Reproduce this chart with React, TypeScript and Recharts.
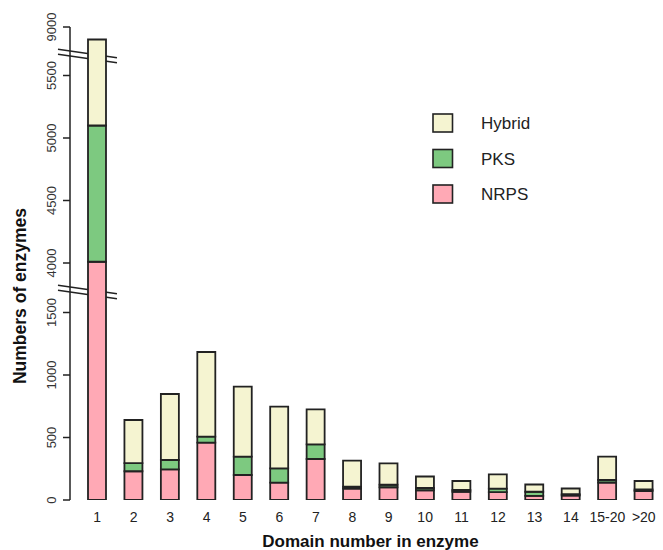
import React from 'react';
import { BarChart, Bar, XAxis, YAxis, Customized } from 'recharts';

// ---- data ----
const categories = ['1', '2', '3', '4', '5', '6', '7', '8', '9', '10', '11', '12', '13', '14', '15-20', '>20'];
const nrps = [4010, 230, 245, 459, 200, 139, 328, 92, 102, 78, 66, 63, 33, 36, 140, 72];
const pks = [1090, 65, 75, 48, 147, 114, 117, 15, 20, 18, 14, 28, 33, 10, 20, 12];
const hybrid = [3800, 345, 528, 677, 560, 494, 280, 208, 171, 92, 72, 114, 58, 46, 187, 68];
const yTickValues = [0, 500, 1000, 1500, 4000, 4500, 5000, 5500, 9000];

const seriesNames = ['Hybrid', 'PKS', 'NRPS'];
const COLORS: Record<string, string> = { NRPS: '#ffa9b5', PKS: '#7dc980', Hybrid: '#f5f4d1' };

// broken axis segments (real value ranges), with shift to display units
const segments = [
  { start: 0, end: 1664, shift: 0 },
  { start: 3768, end: 5656, shift: 2104 },
  { start: 8768, end: 9100, shift: 5216 },
];
const toDisplay = (v: number) => {
  for (const s of segments) {
    if (v <= s.end) return Math.max(v, s.start) - s.shift;
  }
  const last = segments[segments.length - 1];
  return v - last.shift;
};

const D_MAX = toDisplay(9000);

const tableData = categories.map((c, i) => {
  const c1 = nrps[i];
  const c2 = nrps[i] + pks[i];
  const c3 = c2 + hybrid[i];
  return {
    cat: c,
    NRPS: toDisplay(c1),
    PKS: toDisplay(c2) - toDisplay(c1),
    Hybrid: toDisplay(c3) - toDisplay(c2),
  };
});

const displayTicks = yTickValues.map(toDisplay);
const tickLabelOf: Record<number, string> = {};
yTickValues.forEach((v, i) => (tickLabelOf[displayTicks[i]] = String(v)));

// ---- layout ----
const W = 663;
const H = 550;
const PLOT_TOP = 27;
const PLOT_BOTTOM = 500;
const AXIS_X = 70;
const FONT = '"Liberation Sans", Arial, Helvetica, sans-serif';

const yOf = (d: number) => PLOT_BOTTOM - ((PLOT_BOTTOM - PLOT_TOP) * d) / D_MAX;

const YTick = (props: any) => {
  const { x, y, payload } = props;
  return (
    <text
      x={x}
      y={y}
      transform={`rotate(-90, ${x}, ${y})`}
      textAnchor="middle"
      fontSize={13}
      fontFamily={FONT}
      fill="#333"
    >
      {tickLabelOf[payload.value]}
    </text>
  );
};

const Overlay = () => {
  const breaks = segments.slice(0, -1).map((s) => yOf(s.end - s.shift));
  const x1 = 58;
  const x2 = 117;
  const gap = 5;
  const drop = 8.5;
  return (
    <g>
      {breaks.map((yc, i) => {
        const a1 = yc - drop / 2 - gap / 2;
        const a2 = yc + drop / 2 - gap / 2;
        const b1 = a1 + gap;
        const b2 = a2 + gap;
        return (
          <g key={i}>
            <polygon points={`${x1},${a1} ${x2},${a2} ${x2},${b2} ${x1},${b1}`} fill="#fff" stroke="none" />
            <line x1={x1} y1={a1} x2={x2} y2={a2} stroke="#222" strokeWidth={1.3} />
            <line x1={x1} y1={b1} x2={x2} y2={b2} stroke="#222" strokeWidth={1.3} />
          </g>
        );
      })}
      {seriesNames.map((n, i) => (
        <g key={n}>
          <rect x={433} y={114 + i * 35.5} width={19.5} height={18} fill={COLORS[n]} stroke="#222" strokeWidth={1.6} />
          <text x={481} y={129 + i * 35.5} fontSize={17} fontFamily={FONT} fill="#222">
            {n}
          </text>
        </g>
      ))}
      <text x={370.5} y={547} textAnchor="middle" fontSize={17} fontWeight="bold" fontFamily={FONT} fill="#111">
        Domain number in enzyme
      </text>
      <text
        x={26}
        y={296}
        transform={`rotate(-90, 26, 296)`}
        textAnchor="middle"
        fontSize={17.5}
        fontWeight="bold"
        fontFamily={FONT}
        fill="#111"
      >
        Numbers of enzymes
      </text>
    </g>
  );
};

export default function App() {
  return (
    <div style={{ position: 'fixed', left: 0, top: 0, background: '#fff' }}>
      <BarChart
        width={W}
        height={H}
        data={tableData}
        margin={{ top: PLOT_TOP, right: 1, bottom: 0, left: 0 }}
        barSize={18}
      >
        <XAxis
          dataKey="cat"
          type="category"
          axisLine={false}
          tickLine={false}
          tickSize={6}
          tickMargin={6}
          height={H - PLOT_BOTTOM}
          padding={{ left: 9, right: 0 }}
          interval={0}
          tick={{ fontSize: 14, fontFamily: FONT, fill: '#222' }}
        />
        <YAxis
          type="number"
          domain={[0, D_MAX]}
          ticks={displayTicks}
          width={AXIS_X}
          axisLine={{ stroke: '#222', strokeWidth: 1.5 }}
          tickLine={{ stroke: '#222', strokeWidth: 1.5 }}
          tickSize={7}
          tickMargin={7}
          tick={<YTick />}
          interval={0}
          allowDataOverflow
        />
        {['NRPS', 'PKS', 'Hybrid'].map((k) => (
          <Bar
            key={k}
            dataKey={k}
            stackId="a"
            fill={COLORS[k]}
            stroke="#222"
            strokeWidth={1.8}
            isAnimationActive={false}
          />
        ))}
        <Customized component={Overlay} />
      </BarChart>
    </div>
  );
}
